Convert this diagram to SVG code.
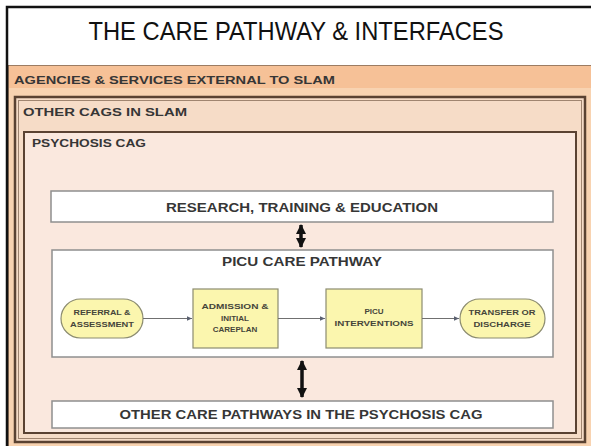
<svg xmlns="http://www.w3.org/2000/svg" width="591" height="446" viewBox="0 0 591 446">
<defs>
<marker id="sm" markerWidth="6" markerHeight="6" refX="5" refY="3" orient="auto" markerUnits="userSpaceOnUse"><path d="M0,0.8 L5,3 L0,5.2 Z" fill="#5a6070"/></marker>
<marker id="big" markerWidth="12" markerHeight="10" refX="9" refY="5" orient="auto-start-reverse" markerUnits="userSpaceOnUse"><path d="M0,0 L10,5 L0,10 Z" fill="#111"/></marker>
</defs>
<style>
.hdr{font-family:"Liberation Sans",Arial,sans-serif;font-weight:bold;fill:#363636}
.nt{font-family:"Liberation Sans",Arial,sans-serif;font-weight:bold;font-size:8px;fill:#45453a;text-anchor:middle}
.box{fill:#fff;stroke:#8f8f8f;stroke-width:1.5}
.yel{fill:#fbf6ae;stroke:#8c8c70;stroke-width:1.2}
.con{stroke:#707070;stroke-width:1;fill:none;marker-end:url(#sm)}
.dbl{stroke:#111;stroke-width:3.5;fill:none;marker-start:url(#big);marker-end:url(#big)}
</style>
<rect x="0" y="0" width="591" height="446" fill="#fff"/>
<g id="agencies">
<rect x="8" y="65" width="590" height="390" fill="#f8d3b1" stroke="#7d6048" stroke-width="1.5"/>
<rect x="9" y="66" width="582" height="22" fill="#f6c197"/>
<text class="hdr" x="14" y="83.5" font-size="10.5" textLength="321" lengthAdjust="spacingAndGlyphs">AGENCIES &amp; SERVICES EXTERNAL TO SLAM</text>
</g>
<g id="other-cags">
<rect x="15" y="97" width="570" height="345" fill="#f6dcc7" stroke="#5a4232" stroke-width="2.5"/>
<rect x="18.5" y="100.5" width="563" height="338" fill="none" stroke="#a08570" stroke-width="1"/>
<text class="hdr" x="23" y="116" font-size="10.5" textLength="164" lengthAdjust="spacingAndGlyphs">OTHER CAGS IN SLAM</text>
</g>
<g id="psychosis-cag">
<rect x="24" y="132" width="552" height="301" fill="#fae8de" stroke="#5a4232" stroke-width="2"/>
<text class="hdr" x="32" y="147" font-size="10.5" textLength="114" lengthAdjust="spacingAndGlyphs">PSYCHOSIS CAG</text>
</g>
<g id="title">
<rect x="7" y="7" width="590" height="58" fill="#fff"/>
<path d="M7,446 V7 H591" fill="none" stroke="#111" stroke-width="2.5"/>
<text x="296" y="40" font-family="Liberation Sans,Arial,sans-serif" font-size="25" fill="#111" text-anchor="middle" textLength="415" lengthAdjust="spacingAndGlyphs">THE CARE PATHWAY &amp; INTERFACES</text>
</g>
<g id="research">
<rect class="box" x="51" y="191" width="502" height="31"/>
<text class="hdr" x="302" y="211.5" font-size="12" text-anchor="middle" textLength="272" lengthAdjust="spacingAndGlyphs">RESEARCH, TRAINING &amp; EDUCATION</text>
</g>
<g id="picu-pathway">
<rect class="box" x="52" y="250" width="501" height="107"/>
<text class="hdr" x="302" y="266" font-size="12.5" text-anchor="middle" textLength="160" lengthAdjust="spacingAndGlyphs">PICU CARE PATHWAY</text>
</g>
<g id="other-pathways">
<rect class="box" x="52" y="401" width="501" height="27"/>
<text class="hdr" x="301" y="418.5" font-size="12.5" text-anchor="middle" textLength="363" lengthAdjust="spacingAndGlyphs">OTHER CARE PATHWAYS IN THE PSYCHOSIS CAG</text>
</g>
<g id="referral">
<rect class="yel" x="61" y="299" width="82" height="39" rx="19.5"/>
<text class="nt" x="102" y="315" textLength="57" lengthAdjust="spacingAndGlyphs">REFERRAL &amp;</text>
<text class="nt" x="102" y="327" textLength="64" lengthAdjust="spacingAndGlyphs">ASSESSMENT</text>
</g>
<g id="admission">
<rect class="yel" x="193" y="289" width="85" height="59"/>
<text class="nt" x="235" y="309" textLength="67" lengthAdjust="spacingAndGlyphs">ADMISSION &amp;</text>
<text class="nt" x="235" y="320.5">INITIAL</text>
<text class="nt" x="235" y="332">CAREPLAN</text>
</g>
<g id="interventions">
<rect class="yel" x="326" y="289" width="96" height="59"/>
<text class="nt" x="374" y="313.5">PICU</text>
<text class="nt" x="374" y="325.5" textLength="79" lengthAdjust="spacingAndGlyphs">INTERVENTIONS</text>
</g>
<g id="transfer">
<rect class="yel" x="460" y="299" width="85" height="39" rx="19.5"/>
<text class="nt" x="502" y="315" textLength="67" lengthAdjust="spacingAndGlyphs">TRANSFER OR</text>
<text class="nt" x="502" y="327" textLength="57" lengthAdjust="spacingAndGlyphs">DISCHARGE</text>
</g>
<g id="connectors">
<line class="con" x1="143" y1="318.5" x2="192" y2="318.5"/>
<line class="con" x1="278" y1="318.5" x2="325" y2="318.5"/>
<line class="con" x1="422" y1="318.5" x2="459" y2="318.5"/>
<line class="dbl" x1="301" y1="225" x2="301" y2="247"/>
<line class="dbl" x1="302" y1="361" x2="302" y2="397"/>
</g>
</svg>
